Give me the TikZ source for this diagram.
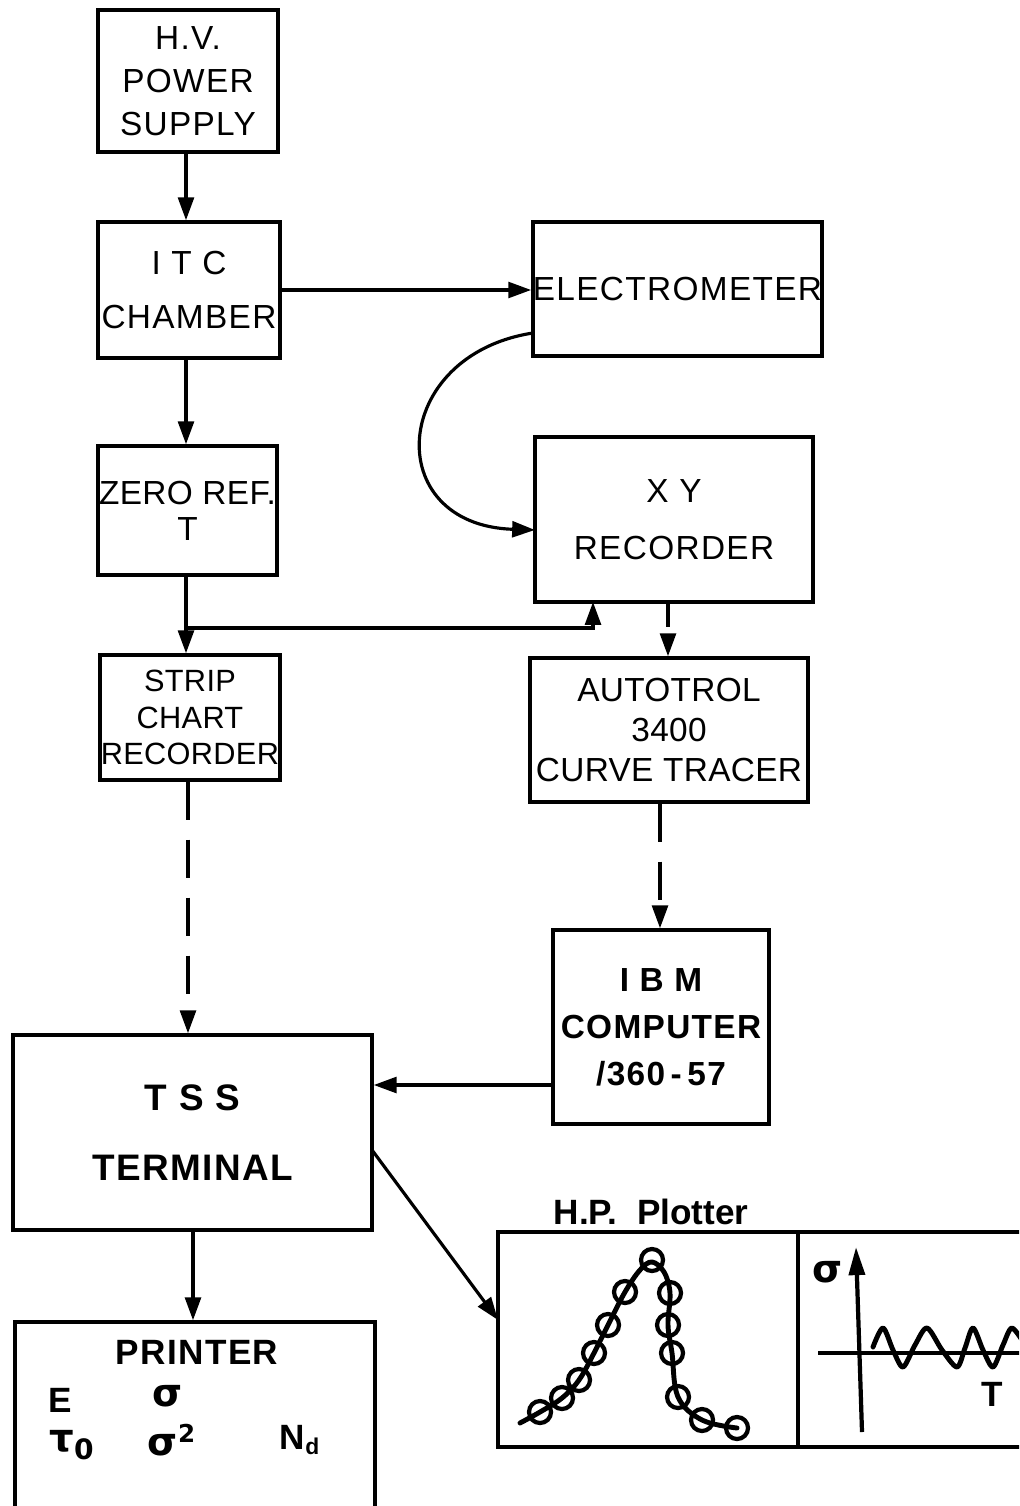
\documentclass[tikz,border=0pt]{standalone}
\usepackage{fontspec}
\setmainfont{Liberation Sans}
\newfontfamily\lab{Liberation Sans}[LetterSpace=4]
\newfontfamily\labn{Liberation Sans}[LetterSpace=1]
\newfontfamily\gk{DejaVu Sans}
\usetikzlibrary{arrows.meta}
\begin{document}
\begin{tikzpicture}[x=0.02cm,y=-0.02cm,
  box/.style={draw, line width=2pt, inner sep=0pt, align=center,
    font=\lab\fontsize{19}{24.5}\selectfont},
  bbox/.style={box, font=\lab\bfseries\fontsize{19}{26.7}\selectfont},
  arr/.style={line width=1.8pt, -{Triangle[length=13pt,width=9pt]}},
  dsh/.style={arr, dash pattern=on 22pt off 11pt},
  pen/.style={line width=2.8pt, line cap=round, line join=round},
  lbl/.style={inner sep=0pt, font=\bfseries\fontsize{20}{24}\selectfont}]
\useasboundingbox (0,0) rectangle (1019,1506);
\clip (0,0) rectangle (1019,1506);

% boxes
\node[box, minimum width=3.6cm, minimum height=2.84cm] (hv) at (188,81) {H.V.\\POWER\\SUPPLY};
\node[box, minimum width=3.64cm, minimum height=2.72cm] (itc) at (189,290) {I T C\\[6pt]CHAMBER};
\node[box, minimum width=5.78cm, minimum height=2.68cm] (elec) at (677.5,289) {ELECTROMETER};
\node[box, minimum width=3.58cm, minimum height=2.58cm, font=\labn\fontsize{19}{24.5}\selectfont] (zero) at (187.5,510.5) {ZERO REF.\\[-4pt]T};
\node[box, minimum width=5.56cm, minimum height=3.3cm] (xy) at (674,519.5) {X Y\\[8pt]RECORDER};
\node[box, minimum width=3.6cm, minimum height=2.5cm, font=\labn\fontsize{17.5}{21}\selectfont] (strip) at (190,717.5) {STRIP\\CHART\\RECORDER};
\node[box, minimum width=5.56cm, minimum height=2.88cm, font=\labn\fontsize{19}{23}\selectfont] (auto) at (669,730) {AUTOTROL\\3400\\CURVE TRACER};
\node[bbox, minimum width=4.32cm, minimum height=3.88cm] (ibm) at (661,1027) {I B M\\COMPUTER\\/360\,-\,57};
\node[box, minimum width=7.18cm, minimum height=3.9cm, font=\lab\bfseries\fontsize{21}{40}\selectfont] (tss) at (192.5,1132.5) {T S S\\TERMINAL};
\node[box, minimum width=7.2cm, minimum height=4.16cm] (printer) at (195,1426) {};
\node[box, minimum width=10.84cm, minimum height=4.3cm] (plot) at (769,1339.5) {};
\draw[line width=2pt] (plot.north -| 798,0) coordinate (divtop) -- (plot.south -| 798,0) coordinate (divbot);

% printer contents
\node[lbl, font=\lab\bfseries\fontsize{20}{24}\selectfont] (ptitle) at (197,1352) {PRINTER};
\node[lbl] (pE) at (60,1400) {E};
\node[lbl, font=\gk\bfseries\fontsize{22}{24}\selectfont] (psig) at (168,1396) {σ};
\node[lbl, font=\gk\bfseries\fontsize{22}{24}\selectfont] (ptau) at (72,1445) {τ\textsubscript{\fontsize{16}{18}\selectfont 0}};
\node[lbl, font=\gk\bfseries\fontsize{22}{24}\selectfont] (psig2) at (172,1440) {σ\textsuperscript{\fontsize{14}{16}\selectfont 2}};
\node[lbl] (pN) at (300,1440) {N\textsubscript{\fontsize{13}{14}\selectfont d}};

% plotter title
\node[lbl, font=\bfseries\fontsize{20}{24}\selectfont] (ptl) at (651,1212) {H.P.\ \ Plotter};

% left plot: peak with circles
\draw[pen] plot[smooth, tension=0.6] coordinates {(520,1423) (540,1412) (562,1398) (579,1380) (594,1353) (608,1325) (625,1292) (640,1270) (652,1262) (664,1272) (670,1293) (668,1325) (672,1353) (678,1397) (702,1420) (737,1428)};
\foreach \p in {(540,1412),(562,1398),(579,1380),(594,1353),(608,1325),(625,1292),(652,1260),(670,1293),(668,1325),(672,1353),(678,1397),(702,1420),(737,1428)}
  \draw[line width=2.4pt] \p circle (11);

% right plot
\draw[line width=2.4pt, -{Triangle[length=16pt,width=9pt]}] (862,1432) -- (856,1247);
\draw[line width=2.4pt] (818,1353) -- (1030,1353);
\draw[pen] plot[smooth, tension=0.5] coordinates {(873,1347) (883,1328) (893,1350) (903,1367) (915,1345) (927,1328) (942,1350) (957,1367) (965,1348) (973,1328) (983,1350) (993,1367) (1003,1345) (1012,1328) (1025,1345)};
\node[lbl, font=\gk\bfseries\fontsize{22}{24}\selectfont] (rsig) at (828,1272) {σ};
\node[lbl] (rT) at (992,1394) {T};

% connectors
\draw[arr] (hv.south -| 186,0) -- (itc.north -| 186,0);
\draw[arr] (itc.east) -- (elec.west |- itc.east);
\draw[arr] (itc.south -| 186,0) -- (zero.north -| 186,0);
\coordinate (cs) at (533,333);
\coordinate (ce) at (535,530);
\draw[arr] (cs) .. controls (390,355) and (380,525) .. (ce);
\coordinate (j) at (186,628);
\coordinate (xyin) at (593,602);
\draw[arr] (zero.south -| 186,0) -- (strip.north -| 186,0);
\draw[arr] (j) -| (xyin);
\draw[arr, dash pattern=on 13pt off 6pt] (xy.south -| 668,0) -- (auto.north -| 668,0);
\draw[dsh] (auto.south -| 660,0) -- (ibm.north -| 660,0);
\draw[dsh] (strip.south -| 188,0) -- (tss.north -| 188,0);
\draw[arr] (ibm.west |- 0,1085) -- (tss.east |- 0,1085);
\draw[arr] (tss.south -| 193,0) -- (printer.north -| 193,0);
\coordinate (ts) at (372,1150);
\coordinate (pl) at (498,1320);
\draw[arr] (ts) -- (pl);
\end{tikzpicture}
\end{document}
